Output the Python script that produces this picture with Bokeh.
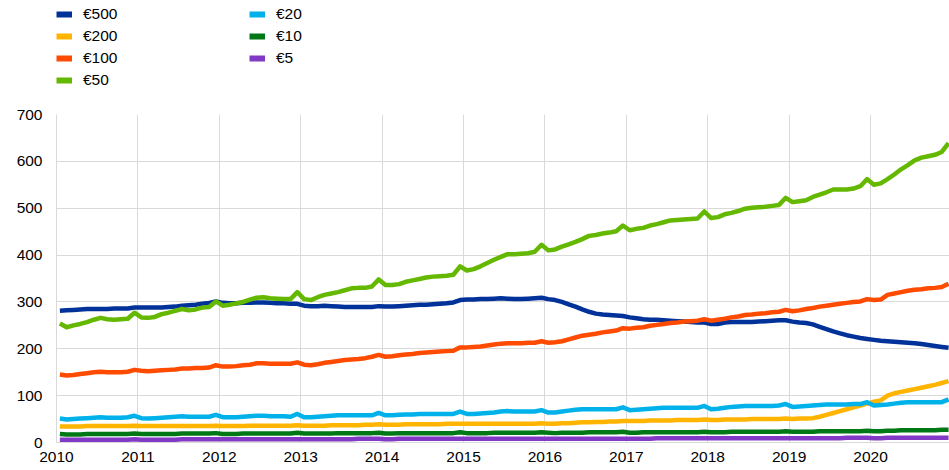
from bokeh.plotting import figure
from bokeh.models import Range1d, FixedTicker, Legend, LegendItem, ColumnDataSource
from bokeh.layouts import column
from bokeh.embed import file_html
from bokeh.resources import INLINE

# ---------------- data (monthly, Jan 2010 - Dec 2020, EUR billions) ----------------
years = list(range(2010, 2021))
x_tick_labels = [str(y) for y in years]
y_ticks = [0, 100, 200, 300, 400, 500, 600, 700]

e500 = [281, 282, 283, 284, 285, 285, 285, 285, 286, 286, 286, 288,
        288, 288, 288, 288, 289, 290, 292, 293, 294, 296, 298, 301,
        298, 297, 297, 298, 298, 299, 299, 298, 297, 297, 296, 296,
        292, 291, 291, 292, 291, 290, 289, 289, 289, 289, 289, 291,
        290, 290, 291, 292, 293, 294, 294, 295, 296, 297, 299, 304,
        305, 305, 306, 306, 307, 308, 307, 306, 306, 307, 308, 309,
        306, 304, 300, 295, 290, 284, 279, 275, 273, 272, 271, 270,
        267, 265, 263, 262, 262, 261, 260, 259, 258, 257, 256, 256,
        253, 253, 256, 257, 257, 257, 257, 258, 259, 260, 261, 261,
        258, 256, 255, 252, 247, 242, 237, 233, 229, 226, 223, 221,
        219, 217, 216, 215, 214, 213, 212, 210, 208, 206, 204, 202]

e200 = [34, 34, 34, 34, 35, 35, 35, 35, 35, 35, 35, 36,
        35, 35, 35, 35, 35, 35, 35, 35, 35, 35, 35, 36,
        35, 35, 35, 35, 36, 36, 36, 36, 36, 36, 36, 37,
        36, 36, 36, 36, 37, 37, 37, 37, 37, 38, 38, 39,
        38, 38, 38, 39, 39, 39, 39, 39, 39, 40, 40, 40,
        40, 40, 40, 40, 40, 40, 40, 40, 40, 40, 40, 41,
        40, 40, 41, 41, 42, 43, 43, 44, 44, 45, 45, 46,
        46, 46, 46, 47, 47, 47, 47, 48, 48, 48, 48, 49,
        48, 48, 49, 49, 49, 49, 50, 50, 50, 50, 50, 51,
        50, 51, 51, 52, 55, 59, 63, 67, 71, 75, 79, 83,
        87, 90, 100, 105, 108, 111, 114, 117, 120, 123, 127, 131]

e100 = [145, 143, 144, 146, 148, 150, 151, 150, 150, 150, 151, 155,
        153, 152, 153, 154, 155, 156, 158, 158, 159, 159, 160, 165,
        162, 162, 163, 165, 166, 169, 169, 168, 168, 168, 168, 171,
        166, 165, 167, 170, 172, 174, 176, 177, 178, 180, 183, 187,
        183, 184, 186, 188, 189, 191, 192, 193, 194, 195, 196, 203,
        203, 204, 205, 207, 209, 211, 212, 212, 212, 213, 213, 216,
        213, 214, 216, 220, 224, 228, 230, 232, 235, 237, 239, 244,
        243, 245, 246, 249, 251, 253, 255, 256, 258, 259, 260, 263,
        260, 262, 264, 267, 269, 272, 273, 275, 276, 278, 279, 283,
        280, 282, 285, 287, 290, 292, 294, 296, 298, 300, 301, 306,
        304, 305, 315, 318, 321, 324, 326, 327, 329, 330, 332, 339]

e50 = [254, 246, 250, 253, 257, 262, 266, 263, 262, 263, 264, 277,
       267, 266, 268, 274, 277, 281, 285, 282, 284, 288, 289, 301,
       292, 294, 297, 300, 305, 309, 310, 308, 307, 306, 306, 321,
       306, 304, 310, 315, 318, 321, 325, 329, 330, 330, 333, 348,
       336, 336, 338, 343, 346, 349, 352, 354, 355, 356, 358, 376,
       367, 370, 376, 383, 390, 396, 402, 402, 403, 404, 407, 422,
       410, 412, 418, 423, 428, 434, 441, 443, 446, 448, 451, 463,
       453, 456, 458, 463, 466, 470, 474, 475, 476, 477, 478, 493,
       479, 481, 487, 490, 494, 499, 501, 502, 503, 505, 507, 522,
       513, 515, 517, 524, 529, 534, 540, 540, 540, 542, 547, 562,
       550, 553, 562, 572, 583, 592, 602, 608, 611, 614, 620, 639]

e20 = [51, 49, 50, 51, 52, 53, 54, 53, 53, 53, 54, 57,
       52, 51, 52, 53, 54, 55, 56, 55, 55, 55, 55, 59,
       54, 54, 54, 55, 56, 57, 57, 56, 56, 56, 55, 61,
       54, 54, 55, 56, 57, 58, 58, 58, 58, 58, 58, 63,
       58, 58, 59, 60, 60, 61, 61, 61, 61, 61, 61, 66,
       61, 61, 62, 63, 64, 66, 67, 66, 66, 66, 66, 69,
       64, 64, 66, 68, 70, 71, 71, 71, 71, 71, 71, 75,
       69, 70, 71, 72, 73, 74, 74, 74, 74, 74, 74, 78,
       71, 72, 74, 76, 77, 78, 78, 78, 78, 78, 79, 82,
       76, 77, 78, 79, 80, 81, 81, 81, 81, 82, 82, 86,
       79, 80, 81, 83, 85, 86, 86, 86, 86, 86, 86, 92]

e10 = [18, 17, 17, 17, 18, 18, 18, 18, 18, 18, 18, 19,
       18, 18, 18, 18, 18, 18, 19, 19, 19, 19, 19, 20,
       18, 18, 18, 19, 19, 19, 19, 19, 19, 19, 19, 21,
       19, 19, 19, 19, 19, 20, 20, 20, 20, 20, 20, 21,
       19, 19, 20, 20, 20, 20, 20, 20, 20, 20, 20, 22,
       20, 20, 20, 20, 21, 21, 21, 21, 21, 21, 21, 22,
       21, 20, 21, 21, 21, 21, 22, 22, 22, 22, 22, 23,
       21, 21, 22, 22, 22, 22, 22, 22, 22, 22, 22, 23,
       22, 22, 22, 23, 23, 23, 23, 23, 23, 23, 23, 24,
       23, 23, 23, 23, 24, 24, 24, 24, 24, 24, 24, 25,
       24, 24, 25, 25, 26, 26, 26, 26, 26, 26, 27, 27]

e5 = [6, 6, 6, 6, 6, 6, 6, 6, 6, 6, 6, 7,
      6, 6, 6, 6, 6, 6, 7, 7, 7, 7, 7, 7,
      7, 7, 7, 7, 7, 7, 7, 7, 7, 7, 7, 7,
      7, 7, 7, 7, 7, 7, 7, 7, 8, 8, 8, 8,
      7, 7, 8, 8, 8, 8, 8, 8, 8, 8, 8, 8,
      8, 8, 8, 8, 8, 8, 8, 8, 8, 8, 8, 8,
      8, 8, 8, 8, 8, 8, 8, 8, 8, 8, 8, 8,
      8, 8, 8, 8, 9, 9, 9, 9, 9, 9, 9, 9,
      9, 9, 9, 9, 9, 9, 9, 9, 9, 9, 9, 9,
      9, 9, 9, 9, 9, 9, 9, 9, 10, 10, 10, 10,
      9, 9, 10, 10, 10, 10, 10, 10, 10, 10, 10, 10]

series_names = ["€500", "€200", "€100", "€50", "€20", "€10", "€5"]
series_values = [e500, e200, e100, e50, e20, e10, e5]
series_colors = ["#003299", "#FFB400", "#FF4B00", "#65B800", "#00B1EA", "#007816", "#8139C6"]

# mid-month positions in fractional years
months = [y + (m + 0.5) / 12 for y in years for m in range(12)]

FONT = "Liberation Sans"
FS = "15.5px"
GRID = "#d9d9d9"
W = 949
LEG_H = 106

# ---------------- legend strip ----------------
leg_fig = figure(width=W, height=LEG_H, output_backend="svg", toolbar_location=None,
                 x_range=Range1d(0, 1), y_range=Range1d(0, 1),
                 x_axis_location=None, y_axis_location=None,
                 min_border_left=51, min_border_right=0, min_border_top=5, min_border_bottom=0)
leg_fig.outline_line_color = None
leg_fig.grid.visible = False

# ---------------- main plot ----------------
p = figure(width=W, height=470 - LEG_H, output_backend="svg", toolbar_location=None,
           x_range=Range1d(2010, 2020.97), y_range=Range1d(0, 700),
           min_border_left=56, min_border_right=0, min_border_top=8, min_border_bottom=28)
p.outline_line_color = None

items = []
for name, vals, col in zip(series_names, series_values, series_colors):
    src = ColumnDataSource(dict(x=months, y=vals))
    p.line("x", "y", source=src, line_color=col, line_width=4.5, line_join="round")
    # legend-only renderer: its points lie outside the legend strip's visible range
    lr = leg_fig.line(x=[5, 6], y=[5, 5], line_color=col, line_width=6)
    items.append(LegendItem(label=name, renderers=[lr]))

p.xaxis.ticker = FixedTicker(ticks=years)
p.xaxis.major_label_overrides = {y: lab for y, lab in zip(years, x_tick_labels)}
p.yaxis.ticker = FixedTicker(ticks=y_ticks)
p.xgrid.ticker = FixedTicker(ticks=years)
p.ygrid.ticker = FixedTicker(ticks=y_ticks)
p.grid.grid_line_color = GRID
p.grid.grid_line_width = 1

for ax in (p.xaxis, p.yaxis):
    ax.axis_line_color = GRID
    ax.major_tick_line_color = None
    ax.minor_tick_line_color = None
    ax.major_tick_out = 0
    ax.major_tick_in = 0
    ax.minor_tick_out = 0
    ax.major_label_text_font = FONT
    ax.major_label_text_font_size = FS
    ax.major_label_text_color = "#000000"
p.xaxis.major_label_standoff = 9
p.yaxis.major_label_standoff = 14

legend = Legend(items=items, location="top_left", orientation="vertical", nrows=4,
                glyph_width=16, glyph_height=18, label_height=18, label_width=162,
                label_standoff=11, spacing=4, padding=5, margin=0,
                border_line_color=None, background_fill_alpha=0,
                label_text_font=FONT, label_text_font_size=FS, label_text_color="#000000")
leg_fig.add_layout(legend, "center")

layout = column(leg_fig, p, spacing=0)
open("out.html", "w").write(file_html(layout, INLINE))
